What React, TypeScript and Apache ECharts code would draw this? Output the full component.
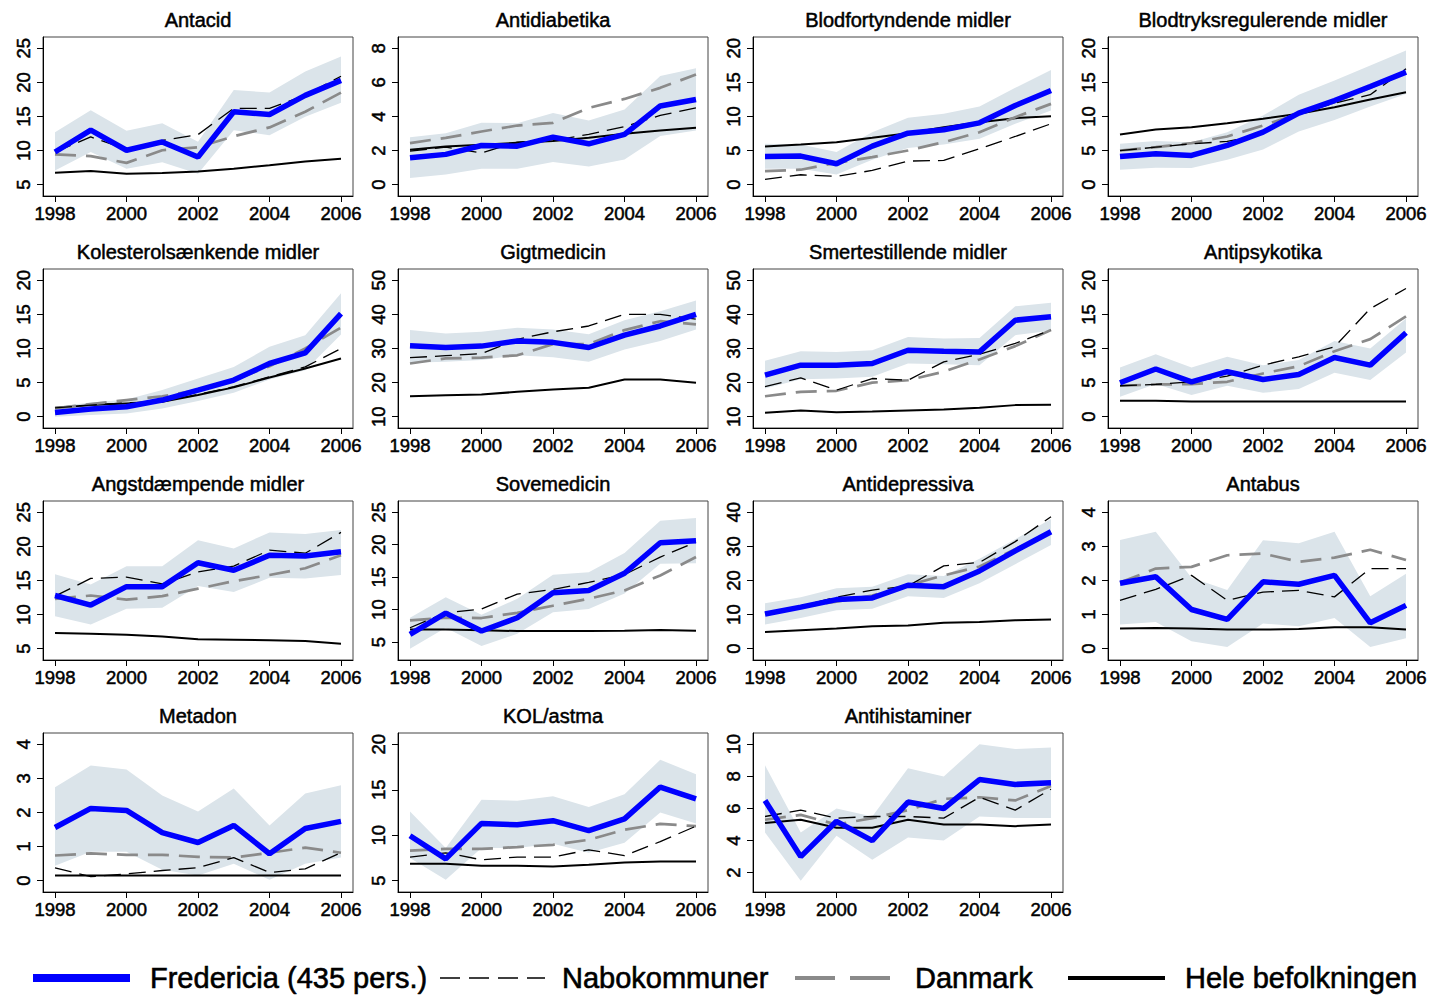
import React, { useEffect, useRef } from "react";
import * as echarts from "echarts";

const years = [1998, 1999, 2000, 2001, 2002, 2003, 2004, 2005, 2006];
const xTicks = [1998, 2000, 2002, 2004, 2006];

const titles = [
  "Antacid",
  "Antidiabetika",
  "Blodfortyndende midler",
  "Blodtryksregulerende midler",
  "Kolesterolsænkende midler",
  "Gigtmedicin",
  "Smertestillende midler",
  "Antipsykotika",
  "Angstdæmpende midler",
  "Sovemedicin",
  "Antidepressiva",
  "Antabus",
  "Metadon",
  "KOL/astma",
  "Antihistaminer",
];

const yTicks = [
  [5, 10, 15, 20, 25],
  [0, 2, 4, 6, 8],
  [0, 5, 10, 15, 20],
  [0, 5, 10, 15, 20],
  [0, 5, 10, 15, 20],
  [10, 20, 30, 40, 50],
  [10, 20, 30, 40, 50],
  [0, 5, 10, 15, 20],
  [5, 10, 15, 20, 25],
  [5, 10, 15, 20, 25],
  [0, 10, 20, 30, 40],
  [0, 1, 2, 3, 4],
  [0, 1, 2, 3, 4],
  [5, 10, 15, 20],
  [2, 4, 6, 8, 10],
];

const fredericia = [
  [9.8, 13.0, 10.05, 11.27, 9.07, 15.7, 15.3, 18.1, 20.3],
  [1.58, 1.78, 2.3, 2.26, 2.79, 2.4, 2.95, 4.62, 5.0],
  [4.15, 4.2, 3.07, 5.66, 7.56, 8.05, 9.07, 11.6, 13.8],
  [4.15, 4.54, 4.3, 5.76, 7.7, 10.5, 12.34, 14.4, 16.5],
  [0.63, 1.12, 1.46, 2.44, 3.9, 5.37, 7.8, 9.37, 15.1],
  [30.8, 30.3, 30.7, 32.2, 31.8, 30.3, 33.9, 36.6, 40.0],
  [22.2, 25.1, 25.1, 25.6, 29.5, 29.2, 29.0, 38.3, 39.3],
  [4.98, 7.0, 5.1, 6.6, 5.46, 6.2, 8.68, 7.56, 12.3],
  [12.8, 11.4, 14.1, 14.1, 17.6, 16.5, 18.7, 18.6, 19.2],
  [6.18, 9.46, 6.7, 8.74, 12.6, 12.95, 15.6, 20.3, 20.6],
  [10.2, 12.2, 14.4, 14.9, 18.6, 18.2, 22.8, 28.7, 34.3],
  [1.92, 2.11, 1.15, 0.86, 1.96, 1.89, 2.15, 0.76, 1.27],
  [1.56, 2.12, 2.06, 1.41, 1.12, 1.62, 0.79, 1.53, 1.74],
  [9.94, 7.4, 11.3, 11.15, 11.6, 10.5, 11.8, 15.3, 14.0],
  [6.5, 3.0, 5.2, 4.0, 6.4, 6.0, 7.8, 7.5, 7.6],
];

const ciUpper = [
  [12.7, 15.9, 12.9, 14.0, 11.3, 18.9, 18.5, 21.6, 23.8],
  [2.79, 3.02, 3.63, 3.61, 4.2, 3.77, 4.41, 6.38, 6.83],
  [6.0, 5.9, 4.78, 7.7, 9.8, 10.4, 11.46, 14.2, 16.8],
  [6.0, 6.4, 6.24, 7.7, 10.15, 13.2, 15.27, 17.46, 19.66],
  [1.46, 2.1, 2.54, 3.9, 5.6, 7.3, 10.24, 11.95, 18.1],
  [35.4, 34.4, 34.9, 36.1, 35.6, 34.2, 38.3, 40.9, 44.1],
  [26.4, 29.2, 29.0, 29.5, 33.4, 32.9, 33.1, 42.4, 43.4],
  [7.2, 9.17, 7.2, 8.8, 7.56, 8.3, 11.1, 10.0, 14.4],
  [15.9, 14.4, 17.1, 17.1, 20.9, 19.7, 22.05, 21.8, 22.4],
  [8.74, 11.9, 9.2, 11.67, 15.36, 15.77, 18.74, 23.7, 24.1],
  [13.3, 15.1, 17.7, 18.2, 21.8, 21.3, 26.4, 32.1, 38.0],
  [3.19, 3.43, 2.08, 1.72, 3.18, 3.09, 3.43, 1.54, 2.2],
  [2.74, 3.38, 3.26, 2.5, 2.03, 2.7, 1.62, 2.56, 2.8],
  [12.6, 8.6, 13.9, 13.8, 14.3, 13.1, 14.5, 18.3, 16.7],
  [8.7, 4.5, 6.0, 5.5, 8.5, 8.0, 10.0, 9.7, 9.8],
];

const ciLower = [
  [7.1, 9.8, 7.35, 8.3, 6.6, 13.0, 12.25, 14.95, 17.0],
  [0.39, 0.6, 0.94, 0.94, 1.33, 1.07, 1.48, 2.85, 3.18],
  [2.34, 2.34, 1.5, 3.66, 5.37, 5.9, 6.73, 8.93, 10.88],
  [2.2, 2.5, 2.44, 3.66, 5.17, 7.8, 9.5, 11.46, 13.3],
  [0.0, 0.24, 0.49, 1.22, 2.3, 3.5, 5.46, 6.83, 12.05],
  [25.8, 26.1, 26.6, 28.0, 27.4, 26.1, 29.7, 32.2, 35.6],
  [18.3, 21.0, 21.2, 21.7, 25.6, 25.4, 25.1, 33.9, 35.2],
  [2.93, 4.78, 3.17, 4.54, 3.5, 4.05, 6.44, 5.37, 9.4],
  [9.77, 8.54, 10.85, 11.0, 14.2, 13.3, 15.4, 15.3, 15.8],
  [3.97, 7.2, 4.38, 6.28, 9.6, 10.1, 12.5, 17.05, 17.15],
  [7.08, 9.04, 11.3, 11.7, 15.4, 14.9, 19.2, 24.8, 30.4],
  [0.71, 0.78, 0.22, 0.05, 0.74, 0.66, 0.9, 0.05, 0.31],
  [0.44, 0.85, 0.85, 0.32, 0.15, 0.5, 0.03, 0.5, 0.68],
  [7.5, 5.1, 8.6, 8.6, 9.06, 8.07, 9.17, 12.5, 11.3],
  [4.5, 1.5, 4.3, 2.8, 4.2, 4.0, 5.5, 5.4, 5.4],
];

const nabokommuner = [
  [9.8, 12.0, 10.2, 11.5, 12.35, 16.2, 16.2, 18.1, 20.9],
  [1.97, 2.2, 1.87, 2.5, 2.6, 2.95, 3.41, 4.06, 4.5],
  [0.78, 1.46, 1.22, 2.1, 3.46, 3.56, 5.27, 7.07, 8.93],
  [5.0, 5.5, 6.0, 6.34, 7.46, 10.4, 11.95, 13.2, 17.0],
  [1.3, 1.7, 2.05, 2.2, 3.27, 4.4, 5.85, 7.3, 10.0],
  [27.3, 27.9, 28.5, 32.7, 34.9, 36.6, 40.0, 40.0, 38.6],
  [18.8, 21.4, 17.8, 21.2, 20.7, 26.1, 28.3, 31.5, 35.4],
  [4.54, 4.73, 5.12, 5.95, 7.56, 8.78, 10.24, 15.85, 18.8],
  [12.7, 15.3, 15.5, 14.5, 16.25, 17.1, 19.45, 19.0, 22.05],
  [7.2, 9.5, 10.1, 12.4, 13.1, 14.2, 15.4, 18.1, 20.4],
  [10.5, 12.5, 15.1, 17.2, 18.4, 24.3, 25.3, 31.4, 38.7],
  [1.42, 1.74, 2.15, 1.42, 1.66, 1.71, 1.52, 2.35, 2.35],
  [0.38, 0.12, 0.2, 0.3, 0.38, 0.68, 0.24, 0.35, 0.82],
  [7.6, 8.07, 7.3, 7.6, 7.6, 8.4, 7.75, 9.3, 11.0],
  [5.5, 5.9, 5.4, 5.5, 5.5, 5.4, 6.7, 5.9, 7.2],
];

const danmark = [
  [9.45, 9.2, 8.2, 10.05, 10.5, 12.1, 13.4, 15.7, 18.5],
  [2.44, 2.75, 3.12, 3.47, 3.63, 4.5, 5.03, 5.68, 6.46],
  [2.0, 2.2, 3.2, 4.05, 5.02, 6.24, 7.7, 9.9, 11.85],
  [5.02, 5.5, 6.1, 7.07, 8.68, 10.4, 12.1, 14.2, 16.5],
  [1.22, 1.85, 2.44, 3.0, 3.9, 5.37, 7.4, 10.0, 13.07],
  [25.6, 27.1, 27.3, 28.0, 31.3, 31.3, 35.4, 38.0, 37.1],
  [16.0, 17.3, 17.6, 20.0, 20.7, 23.2, 26.8, 30.7, 35.4],
  [4.54, 4.73, 4.78, 5.12, 6.34, 7.4, 9.6, 11.37, 14.7],
  [12.3, 12.8, 12.2, 12.7, 13.8, 14.9, 15.8, 16.8, 18.7],
  [8.33, 8.74, 8.7, 9.5, 10.6, 11.67, 12.95, 15.26, 18.1],
  [10.2, 12.2, 13.8, 15.6, 18.6, 21.5, 24.1, 29.2, 34.1],
  [1.94, 2.35, 2.4, 2.74, 2.79, 2.55, 2.67, 2.9, 2.6],
  [0.74, 0.8, 0.76, 0.76, 0.7, 0.68, 0.82, 0.97, 0.82],
  [8.3, 8.5, 8.5, 8.7, 8.95, 9.5, 10.6, 11.25, 11.0],
  [5.3, 5.6, 5.0, 5.4, 5.9, 6.6, 6.7, 6.5, 7.4],
];

const heleBefolkningen = [
  [6.75, 7.0, 6.6, 6.7, 6.95, 7.35, 7.85, 8.4, 8.8],
  [2.05, 2.24, 2.34, 2.46, 2.56, 2.75, 2.99, 3.18, 3.34],
  [5.6, 5.9, 6.24, 6.88, 7.56, 8.44, 9.17, 9.76, 10.05],
  [7.37, 8.1, 8.44, 9.0, 9.66, 10.4, 11.37, 12.5, 13.56],
  [1.3, 1.7, 1.95, 2.2, 3.17, 4.3, 5.76, 7.07, 8.54],
  [16.0, 16.3, 16.5, 17.3, 18.0, 18.5, 20.9, 20.9, 19.95],
  [11.2, 11.8, 11.3, 11.5, 11.8, 12.1, 12.6, 13.4, 13.5],
  [2.35, 2.34, 2.24, 2.24, 2.24, 2.24, 2.24, 2.24, 2.24],
  [7.3, 7.2, 7.06, 6.8, 6.4, 6.33, 6.23, 6.13, 5.74],
  [6.95, 6.95, 6.8, 6.7, 6.7, 6.7, 6.75, 6.85, 6.75],
  [4.9, 5.4, 5.9, 6.6, 6.8, 7.6, 7.8, 8.35, 8.55],
  [0.59, 0.61, 0.59, 0.56, 0.56, 0.58, 0.63, 0.63, 0.56],
  [0.15, 0.15, 0.15, 0.15, 0.15, 0.15, 0.15, 0.15, 0.15],
  [6.87, 6.87, 6.65, 6.65, 6.55, 6.75, 7.0, 7.1, 7.1],
  [5.1, 5.3, 4.8, 4.8, 5.3, 5.0, 5.0, 4.9, 5.0],
];

const legendLabels = ["Fredericia (435 pers.)", "Nabokommuner", "Danmark", "Hele befolkningen"];

const FONT = "'Liberation Sans', Arial, Helvetica, sans-serif";
const BLUE = "#0000ff";
const GRAY = "#8a8a8a";
const BAND = "#dbe4ea";
const TB = 0.5;

function buildOption() {
  const grids: any[] = [];
  const xAxes: any[] = [];
  const yAxes: any[] = [];
  const series: any[] = [];
  const titleArr: any[] = [];
  const PW = 310;
  const PH = 159;
  const xPad = (8 * 12) / 286;
  titles.forEach((t, i) => {
    const c = i % 4;
    const r = Math.floor(i / 4);
    const left = 43 + 355 * c;
    const top = 37 + 232 * r;
    grids.push({ left, top, width: PW, height: PH, show: true, borderColor: "#444", borderWidth: 1, backgroundColor: "#fff" });
    titleArr.push({
      text: t,
      left: left + PW / 2,
      top: top - 27,
      textAlign: "center",
      padding: 0,
      textStyle: {
        fontFamily: FONT,
        fontSize: 20,
        fontWeight: "normal",
        color: "#000",
        lineHeight: 20,
        textBorderColor: "#000",
        textBorderWidth: TB,
      },
    });
    const ticks = yTicks[i];
    const all = [...ciUpper[i], ...ciLower[i], ...fredericia[i], ...nabokommuner[i], ...danmark[i], ...heleBefolkningen[i]];
    const lo = Math.min(ticks[0], ...all);
    const hi = Math.max(ticks[ticks.length - 1], ...all);
    const pad = ((hi - lo) * 11.3) / 136.7;
    xAxes.push({
      type: "value",
      gridIndex: i,
      min: 1998 - xPad,
      max: 2006 + xPad,
      splitLine: { show: false },
      axisLine: { show: true, onZero: false, lineStyle: { color: "#000", width: 1 } },
      axisTick: { show: true, length: 6, customValues: xTicks, lineStyle: { color: "#000", width: 1 } },
      axisLabel: {
        show: true,
        customValues: xTicks,
        margin: 8,
        fontFamily: FONT,
        fontSize: 18.5,
        color: "#000",
        textBorderColor: "#000",
        textBorderWidth: TB,
        formatter: (v: number) => String(v),
      },
    });
    yAxes.push({
      type: "value",
      gridIndex: i,
      min: lo - pad,
      max: hi + pad,
      splitLine: { show: false },
      axisLine: { show: true, onZero: false, lineStyle: { color: "#000", width: 1 } },
      axisTick: { show: true, length: 6, customValues: ticks, lineStyle: { color: "#000", width: 1 } },
      axisLabel: {
        show: true,
        customValues: ticks,
        rotate: 90,
        margin: 10,
        fontFamily: FONT,
        fontSize: 18.5,
        color: "#000",
        textBorderColor: "#000",
        textBorderWidth: TB,
        formatter: (v: number) => String(v),
      },
    });
    const pts = (arr: number[]) => years.map((y, k) => [y, arr[k]]);
    const base = { type: "line", xAxisIndex: i, yAxisIndex: i, showSymbol: false, symbol: "none", silent: true, smooth: false };
    const up = ciUpper[i];
    const lw = ciLower[i];
    series.push({
      type: "custom",
      name: "ci_" + i,
      xAxisIndex: i,
      yAxisIndex: i,
      silent: true,
      z: 1,
      data: years.map((y, k) => [y, lw[k], up[k]]),
      encode: { x: 0, y: [1, 2] },
      renderItem: (params: any, api: any) => {
        if (params.dataIndex !== 0) return null;
        const top = years.map((y, k) => api.coord([y, up[k]]));
        const bot = years.map((y, k) => api.coord([y, lw[k]])).reverse();
        return { type: "polygon", shape: { points: [...top, ...bot] }, style: { fill: BAND, stroke: "none" } };
      },
    });
    series.push({ ...base, name: legendLabels[3], data: pts(heleBefolkningen[i]), lineStyle: { color: "#000", width: 2, type: "solid" }, z: 3 });
    series.push({ ...base, name: legendLabels[2], data: pts(danmark[i]), lineStyle: { color: GRAY, width: 2.7, type: [21, 10] }, z: 4 });
    series.push({ ...base, name: legendLabels[1], data: pts(nabokommuner[i]), lineStyle: { color: "#000", width: 1.3, type: [17, 8] }, z: 5 });
    series.push({ ...base, name: legendLabels[0], data: pts(fredericia[i]), lineStyle: { color: BLUE, width: 5.5, type: "solid" }, z: 6 });
  });

  const ly = 978;
  const legendItems = [
    { x1: 33, x2: 130, tx: 150, stroke: BLUE, w: 8, dash: null as any },
    { x1: 440, x2: 545, tx: 562, stroke: "#000", w: 1.6, dash: [20, 9] },
    { x1: 795, x2: 893, tx: 915, stroke: GRAY, w: 4, dash: [40, 15] },
    { x1: 1068, x2: 1165, tx: 1185, stroke: "#000", w: 4, dash: null },
  ];
  const graphic: any[] = [];
  legendItems.forEach((it, k) => {
    graphic.push({
      type: "line",
      shape: { x1: it.x1, y1: ly, x2: it.x2, y2: ly },
      style: { stroke: it.stroke, lineWidth: it.w, lineDash: it.dash || undefined },
      silent: true,
    });
    graphic.push({
      type: "text",
      x: it.tx,
      y: ly,
      style: {
        text: legendLabels[k],
        fontFamily: FONT,
        fontSize: 29,
        fill: "#000",
        stroke: "#000",
        lineWidth: 0.6,
        align: "left",
        verticalAlign: "middle",
      },
      silent: true,
    });
  });

  return {
    animation: false,
    backgroundColor: "#fff",
    title: titleArr,
    grid: grids,
    xAxis: xAxes,
    yAxis: yAxes,
    series,
    graphic,
  };
}

export default function App() {
  const ref = useRef<HTMLDivElement>(null);
  useEffect(() => {
    if (!ref.current) return;
    const chart = echarts.init(ref.current, undefined, { renderer: "svg" });
    chart.setOption(buildOption() as any);
    return () => chart.dispose();
  }, []);
  return <div ref={ref} style={{ position: "absolute", left: 0, top: 0, width: 1430, height: 995, background: "#fff" }} />;
}
